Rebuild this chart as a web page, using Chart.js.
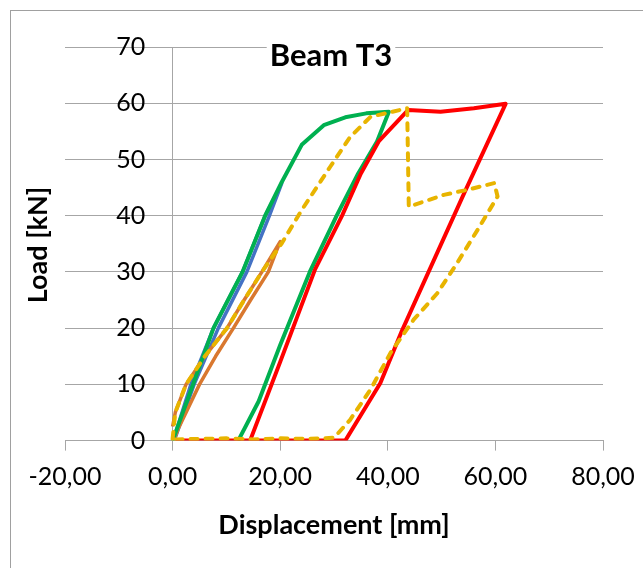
<!DOCTYPE html>
<html>
<head>
<meta charset="utf-8">
<script src="https://cdn.jsdelivr.net/npm/chart.js@4.4.1/dist/chart.umd.min.js"></script>
<style>
  html, body { margin: 0; padding: 0; background: #fff; }
  #wrap { width: 643px; height: 568px; }
</style>
</head>
<body>
<div id="wrap"><canvas id="c" width="643" height="568"></canvas></div>
<script>
// ---- data ----
const chartTitle = 'Beam T3';
const xTitle = 'Displacement [mm]';
const yTitle = 'Load [kN]';
const xTickLabels = ['-20,00', '0,00', '20,00', '40,00', '60,00', '80,00'];
const yTickLabels = ['0', '10', '20', '30', '40', '50', '60', '70'];

const blueX = [0.2, 3.4, 7.6, 13.0, 17.2, 20.3, 18.0, 13.8, 8.5, 4.0, 0.5];
const blueY = [0.3, 10, 20, 30, 40, 45.8, 40, 30, 20, 10, 0.5];

const orangeX = [0, 0.5, 2.5, 6, 10.1, 13.3, 16.6, 20, 19, 17.8, 14.5, 11.3, 8, 5, 2.5, 1, 0.3];
const orangeY = [2.5, 5, 10, 15, 20, 25, 30, 35.4, 33, 30, 25, 20, 15, 10, 5, 2, 0.3];

const greenX = [0, 3.8, 7.6, 13.0, 17.2, 20.3, 24.0, 28.1, 32.1, 36, 40.2, 38, 34.5, 30.5, 25.5, 20, 16, 12.2];
const greenY = [0, 10, 20, 30, 40, 46, 52.6, 56.1, 57.5, 58.2, 58.5, 53.2, 47.5, 40, 30, 17, 7, 0];

const redX = [14.4, 20, 26.5, 31.5, 35, 38.3, 43.8, 49.8, 56, 61.9, 54.2, 42.7, 38.6, 32.1, 0.5];
const redY = [0, 14, 30.5, 40, 47.5, 53.2, 58.8, 58.5, 59.1, 59.9, 44, 19.7, 10.2, 0, 0];

const yellowX = [0, 0.5, 2.5, 6, 10.1, 13.3, 16.6, 20.3, 24, 29.3, 33, 36.8, 39.6, 43.6, 43.9, 46.7, 50.4, 54.8, 59.8, 60.4, 56.7, 52.9, 49.2, 44.8, 40.5, 36.8, 33, 30, 25, 20, 15, 10, 5, 0];
const yellowY = [0.3, 5, 10, 15, 20, 25, 30, 35.1, 41, 48.7, 54, 57.6, 58.2, 59.1, 41.6, 42.5, 43.7, 44.6, 45.8, 43.4, 37.5, 31.6, 26.2, 21.5, 15.6, 9.1, 3.7, 0.5, 0.3, 0.4, 0.2, 0.4, 0.3, 0.2];

function pts(xs, ys) { return xs.map((x, i) => ({ x: x, y: ys[i] })); }

const FONT = 'Lato, "Open Sans", "DejaVu Sans", sans-serif';
const GRID = '#A6A6A6';

const decor = {
  id: 'decor',
  beforeDraw(chart) {
    const c = chart.ctx;
    c.save();
    c.fillStyle = '#ffffff';
    c.fillRect(0, 0, chart.width, chart.height);
    c.strokeStyle = '#A0A0A0';
    c.lineWidth = 1;
    c.strokeRect(10.5, 10.5, chart.width + 40, chart.height + 40);
    c.restore();
  },
  afterDraw(chart) {
    const c = chart.ctx;
    c.save();
    // main title with white box
    c.font = 'bold 31px ' + FONT;
    const w = c.measureText(chartTitle).width;
    const cx = 331, cy = 56;
    c.fillStyle = '#ffffff';
    c.fillRect(cx - w / 2 - 3, cy - 17, w + 6, 34);
    c.fillStyle = '#000000';
    c.textAlign = 'center';
    c.textBaseline = 'middle';
    c.fillText(chartTitle, cx, cy);
    // y title
    c.font = 'bold 27px ' + FONT;
    c.translate(38, 245);
    c.rotate(-Math.PI / 2);
    c.fillText(yTitle, 0, 0);
    c.restore();
  }
};

new Chart(document.getElementById('c'), {
  type: 'scatter',
  data: {
    datasets: [
      { label: 'yellow', data: pts(yellowX, yellowY), borderColor: '#E8B400', borderWidth: 4, borderDash: [7, 8], borderCapStyle: 'round' },
      { label: 'red', data: pts(redX, redY), borderColor: '#FF0000', borderWidth: 4 },
      { label: 'green', data: pts(greenX, greenY), borderColor: '#00B050', borderWidth: 4 },
      { label: 'orange', data: pts(orangeX, orangeY), borderColor: '#D9782F', borderWidth: 3.5 },
      { label: 'blue', data: pts(blueX, blueY), borderColor: '#4472C4', borderWidth: 3.5 }
    ].map(d => Object.assign({ showLine: true, pointRadius: 0, pointHoverRadius: 0, tension: 0, fill: false, borderJoinStyle: 'round' }, d))
  },
  options: {
    responsive: false,
    animation: false,
    devicePixelRatio: 1,
    layout: { padding: { left: 65, right: 40, top: 47, bottom: 27 } },
    plugins: { legend: { display: false }, tooltip: { enabled: false }, title: { display: false } },
    scales: {
      x: {
        type: 'linear',
        position: 'bottom',
        min: -20, max: 80,
        afterFit: (s) => { s.paddingLeft = 0; s.paddingRight = 0; },
        ticks: {
          stepSize: 20,
          padding: 11,
          color: '#000',
          font: { family: FONT, size: 25 },
          maxRotation: 0,
          callback: (v, i) => xTickLabels[i]
        },
        grid: {
          drawOnChartArea: true, drawTicks: true, tickLength: 10,
          color: (ctx) => (ctx.tick && ctx.tick.value === 0 ? GRID : 'rgba(0,0,0,0)'),
          tickColor: GRID
        },
        border: { color: GRID, width: 1 },
        title: {
          display: true, text: xTitle, color: '#000',
          font: { family: FONT, size: 27, weight: 'bold' },
          padding: { top: 6, bottom: 0 }
        }
      },
      y: {
        type: 'linear',
        position: { x: -5.1 },
        min: 0, max: 70,
        ticks: {
          stepSize: 10,
          color: '#000',
          font: { family: FONT, size: 25 },
          callback: (v, i) => yTickLabels[i]
        },
        grid: { drawTicks: false, color: GRID },
        border: { display: false }
      }
    }
  },
  plugins: [decor]
});
</script>
</body>
</html>
